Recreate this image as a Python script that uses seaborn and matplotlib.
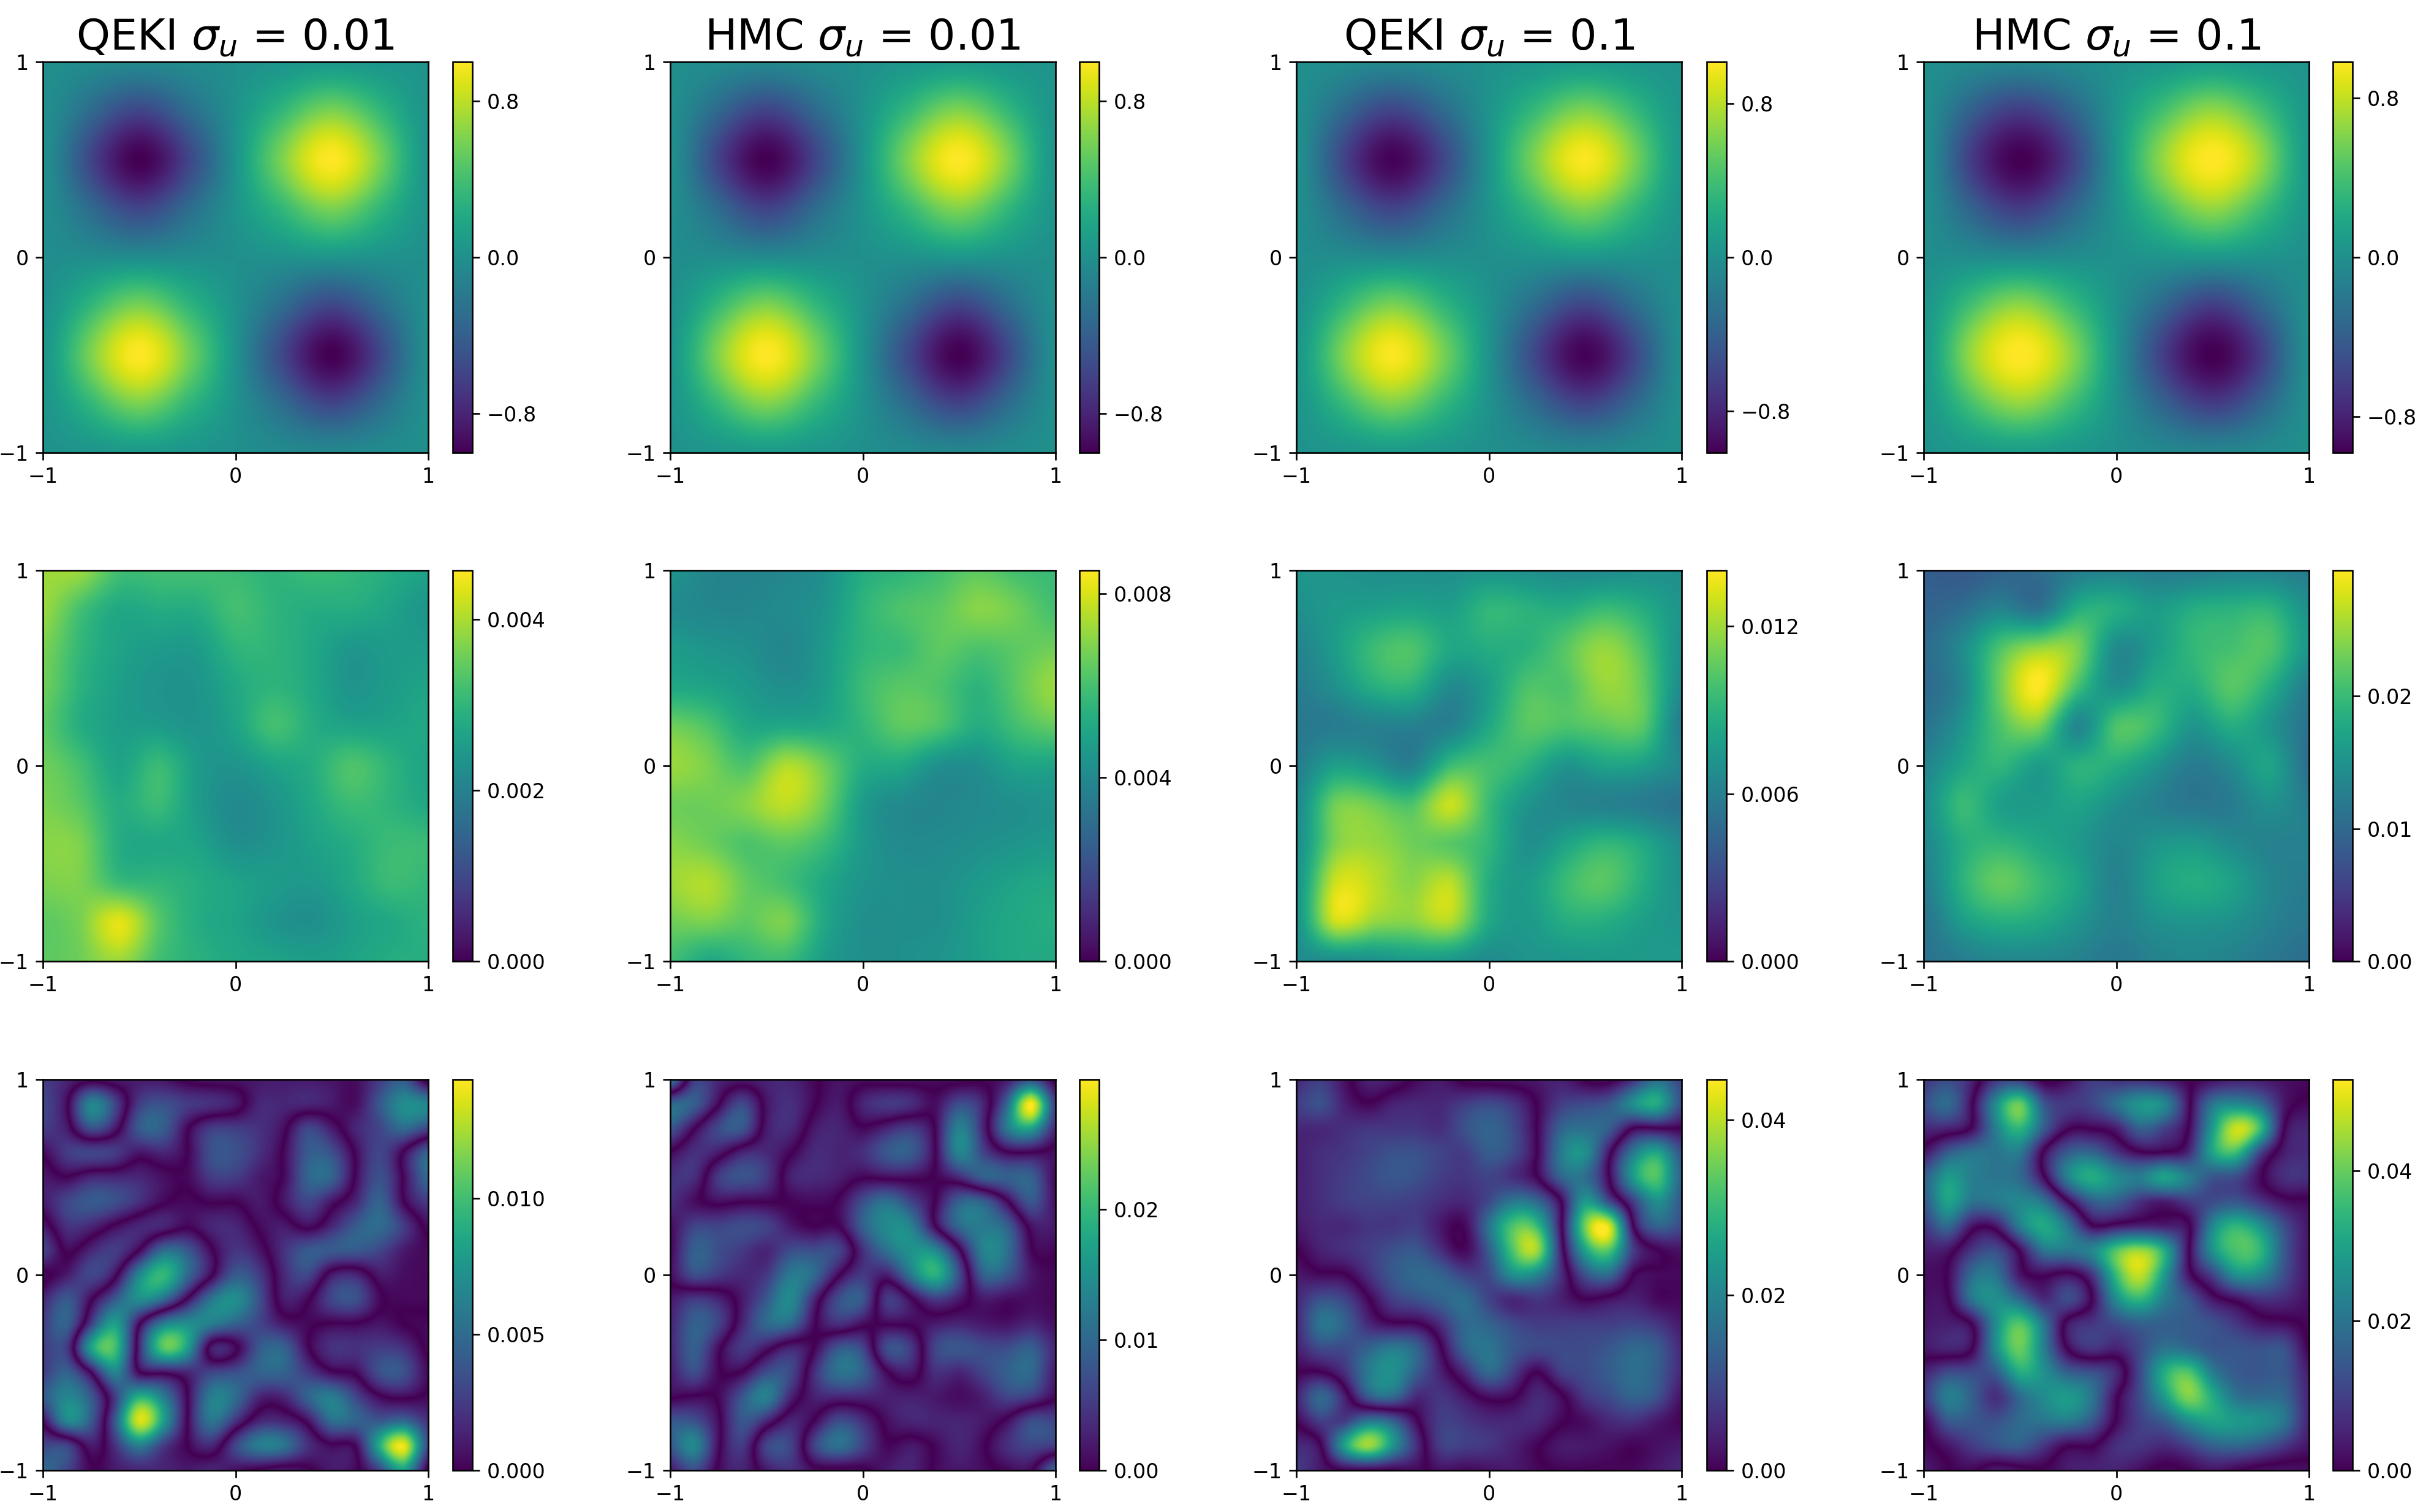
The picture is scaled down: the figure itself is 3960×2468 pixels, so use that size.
import numpy as np
import seaborn as sns
import matplotlib
matplotlib.use("Agg")
import matplotlib.pyplot as plt
from matplotlib.colors import ListedColormap, Normalize

titles = [r"QEKI $\sigma_u$ = 0.01", r"HMC $\sigma_u$ = 0.01", r"QEKI $\sigma_u$ = 0.1", r"HMC $\sigma_u$ = 0.1"]
axis_labels = ["\u22121", "0", "1"]

# ---- top row: posterior mean, 9 x 9 nodes, y = 1 ... -1, x = -1 ... 1
mean_qeki_001 = [
 [0.00,-0.04,-0.06,-0.04,0.00,0.04,0.07,0.05,0.03],
 [0.00,-0.30,-0.58,-0.30,0.02,0.33,0.60,0.33,0.03],
 [0.02,-0.58,-1.00,-0.60,0.02,0.62,1.00,0.60,0.03],
 [0.00,-0.30,-0.58,-0.30,0.03,0.33,0.60,0.32,0.03],
 [-0.02,-0.02,-0.03,-0.02,0.00,0.02,0.04,0.02,0.00],
 [0.00,0.32,0.60,0.32,0.02,-0.30,-0.58,-0.30,0.00],
 [0.03,0.60,1.00,0.60,0.02,-0.58,-1.00,-0.58,0.00],
 [0.03,0.32,0.60,0.32,0.02,-0.30,-0.58,-0.30,0.00],
 [0.02,0.04,0.07,0.04,0.00,-0.05,-0.06,-0.04,0.00]]
mean_hmc_001 = [
 [0.00,-0.04,-0.07,-0.04,0.00,0.05,0.08,0.05,0.03],
 [0.00,-0.32,-0.60,-0.32,0.02,0.35,0.62,0.34,0.03],
 [0.02,-0.60,-1.00,-0.60,0.02,0.64,1.00,0.62,0.03],
 [0.00,-0.30,-0.60,-0.30,0.03,0.35,0.62,0.33,0.03],
 [-0.02,-0.02,-0.04,-0.02,0.00,0.02,0.05,0.02,0.00],
 [0.00,0.34,0.62,0.34,0.02,-0.30,-0.60,-0.30,0.00],
 [0.03,0.62,1.00,0.62,0.02,-0.58,-1.00,-0.58,0.00],
 [0.03,0.34,0.62,0.34,0.02,-0.32,-0.60,-0.30,0.00],
 [0.02,0.05,0.08,0.05,0.00,-0.05,-0.07,-0.04,0.00]]
mean_qeki_01 = [
 [0.00,-0.04,-0.07,-0.04,0.01,0.05,0.08,0.05,0.03],
 [0.00,-0.33,-0.60,-0.33,0.03,0.36,0.62,0.36,0.05],
 [0.02,-0.60,-1.00,-0.62,0.03,0.64,1.00,0.62,0.06],
 [0.00,-0.33,-0.60,-0.33,0.03,0.36,0.62,0.34,0.04],
 [-0.02,-0.02,-0.04,-0.02,0.00,0.03,0.05,0.03,0.00],
 [0.00,0.34,0.62,0.34,0.02,-0.32,-0.60,-0.30,0.00],
 [0.04,0.63,1.00,0.63,0.03,-0.60,-1.00,-0.60,0.00],
 [0.03,0.35,0.62,0.35,0.02,-0.33,-0.60,-0.33,0.00],
 [0.02,0.05,0.08,0.05,0.00,-0.05,-0.07,-0.04,0.00]]
mean_hmc_01 = [
 [0.00,-0.05,-0.08,-0.05,0.01,0.06,0.10,0.06,0.03],
 [0.00,-0.38,-0.63,-0.38,0.04,0.40,0.66,0.40,0.05],
 [0.02,-0.63,-0.98,-0.65,0.04,0.68,0.98,0.68,0.06],
 [0.00,-0.36,-0.63,-0.36,0.03,0.40,0.66,0.38,0.05],
 [-0.01,-0.02,-0.04,-0.02,0.01,0.04,0.06,0.03,0.00],
 [0.03,0.40,0.66,0.38,0.02,-0.34,-0.63,-0.34,0.00],
 [0.05,0.68,0.98,0.68,0.03,-0.63,-0.98,-0.63,0.00],
 [0.04,0.40,0.66,0.40,0.02,-0.36,-0.63,-0.36,0.00],
 [0.02,0.07,0.10,0.06,0.00,-0.06,-0.08,-0.05,0.00]]

# ---- middle row: posterior std, 11 x 11 nodes, percent of the colourbar top
std_qeki_001 = [
 [85,85,70,70,70,68,65,68,66,62,58],
 [85,70,60,62,62,70,65,62,62,58,52],
 [80,66,58,55,55,65,65,60,53,55,55],
 [78,64,56,52,52,60,65,60,52,55,58],
 [75,62,56,55,52,58,70,62,58,58,60],
 [78,70,58,68,55,52,58,62,72,65,58],
 [80,74,62,68,55,48,52,60,68,65,60],
 [82,80,62,60,58,50,52,57,62,68,68],
 [80,80,68,66,62,58,55,54,60,68,66],
 [75,80,96,74,62,58,52,50,56,60,64],
 [75,78,85,70,64,60,58,56,58,62,62]]
std_hmc_001 = [
 [52,46,45,46,50,62,65,70,75,70,68],
 [48,46,46,48,52,65,72,75,82,78,70],
 [55,52,50,46,54,65,68,75,72,75,78],
 [60,58,54,50,55,68,74,72,65,75,85],
 [78,72,60,60,60,66,75,72,62,70,76],
 [85,80,72,88,78,62,60,50,50,58,58],
 [78,78,82,90,78,55,48,46,48,50,52],
 [82,78,72,75,68,54,48,48,50,52,54],
 [85,88,76,70,60,52,50,50,54,58,60],
 [78,80,75,80,60,50,50,50,56,60,62],
 [70,60,66,68,55,50,50,52,56,60,60]]
std_qeki_01 = [
 [52,52,50,50,50,52,50,48,48,50,50],
 [50,54,56,58,56,66,64,62,68,62,52],
 [45,55,68,72,60,62,64,74,84,72,50],
 [42,50,62,64,48,56,72,72,84,76,48],
 [40,42,44,44,44,60,74,72,75,74,42],
 [42,56,52,44,68,70,64,52,58,56,46],
 [46,78,78,72,92,68,52,46,44,42,38],
 [48,80,84,78,74,66,50,58,66,60,48],
 [50,92,90,82,90,62,55,68,74,62,50],
 [50,92,84,82,88,60,54,62,62,56,52],
 [48,48,50,54,52,48,52,52,54,54,54]]
std_hmc_01 = [
 [30,28,32,36,42,44,42,42,45,44,42],
 [32,36,45,38,62,62,55,62,64,65,50],
 [35,48,72,84,80,48,55,66,70,72,52],
 [35,46,78,100,70,50,62,62,74,62,42],
 [38,52,72,80,46,72,68,52,62,52,38],
 [45,58,66,55,64,62,52,42,48,58,36],
 [48,68,56,55,58,50,44,40,42,50,42],
 [46,62,66,60,54,46,52,54,48,44,44],
 [42,64,76,68,58,44,56,62,57,46,42],
 [38,55,62,60,52,44,50,52,50,44,40],
 [38,42,46,46,44,40,44,46,44,40,36]]

# ---- bottom row: error in units of 1e-3, 17 x 17 nodes. The sign only tells
# neighbouring lobes apart, so the plotted magnitude falls to 0 between them.
err_qeki_001 = [
 [-2.5,-1.5,-0.5,-1,-1,-0.8,0.3,0.8,0.8,1,1,1,0.8,0.5,2.5,4,-1],
 [-3,-0.3,6.5,3,-2.5,-3.5,-2.5,-2,-1,1.5,1.5,1.5,1,0.5,4,7,6.5],
 [-2.5,-1,3.5,1,-4,-4.2,-0.2,2.5,2.5,2,0.5,-3,-1,1.5,3,5,3],
 [-0.3,-2.5,-3,-2.5,-0.8,-1.5,0,3.5,3.5,2,-0.2,-4,-3.5,0.3,3,-0.3,-4.5],
 [1,0.1,1.5,1.5,1.5,0.6,0.3,2.5,2.5,1,-0.2,-4.5,-4.5,0.3,3.5,-0.3,-5],
 [1,3,4,3.5,2,0.3,-0.3,0.2,0.1,1,-0.8,-3,-0.8,1.5,4.5,0,-2.5],
 [-1,2,1.5,-0.3,-1.5,-1.5,-0.2,-1.5,-1.5,0.3,1,-0.5,1.5,4,5,2.5,-0.5],
 [-3,0.3,-1.5,-2.5,0.1,5,4,0.3,-2.2,-0.8,2,4,4,4,3,1,0.3],
 [0.3,-1,-3,-0.5,6.5,9.5,5,0.3,-4,-2.5,1.5,3,-1,-1.5,1,0.5,0.3],
 [-1.5,-4,-0.2,4,7,5,-0.3,-5.5,-7,-3.5,1,0.2,-3,-3.5,-0.3,0.3,0.3],
 [-2.5,-4.5,2.5,8,0.3,-6,-7,-6,-4.5,-3,-1,-0.3,0.1,0.1,0.8,0,-0.3],
 [-2.5,-2.5,8,10,-1.5,-10.5,-8,1,0.3,-4,-4.5,-0.3,2,2,2.5,2,-0.3],
 [-2.5,-4.5,0,6.5,0.2,-0.4,-1.5,-3,-3.5,-4.5,-4.5,-2.5,-0.4,0.3,3.5,3.5,0.3],
 [-4,-6.5,-4,2.5,9,6,0,-6,-5,-1.5,-1.5,-4.5,-6,-3,-0.3,0.3,-0.3],
 [-0.3,-6.5,-4,4,13.5,8,0,-5.5,-2,1.5,1.5,-0.5,-5,-4.5,-4,-5,-2],
 [3,3,-1,2,6,2.5,0,-1.5,3,6,5.5,2,0.3,-0.3,-9,-14,-3],
 [5,3,0.2,1,1.5,1.5,1,1.5,0.5,-0.3,-1,-0.3,1,0.3,-3,-8,0.5]]
err_hmc_001 = [
 [-13,5,3,2,3,3,0.5,-1.5,-1,-1.5,-1.5,-1,-1,-0.5,-2,-7,1],
 [10,9,0.5,-6.5,1.5,4,0.3,-2,3,5,4,1,7,3,-10,-30,-5],
 [8,0.3,-6.5,-8,2,3.5,-2,-3,-0.5,-3,-5,0.2,13,3,-12,-17,-3],
 [-0.5,-4,-2,3,3.5,0.3,-3.5,-3,-4,-8,-8.5,-0.2,13.5,6,0.5,0.3,1],
 [-4,-4,5,7.5,5,-2.5,-3.5,-2.5,-0.3,-1,-1,0.3,3.5,9,9,9,0.5],
 [-4,-1,1,0.2,0.2,-0.3,-0.8,0.5,7,11,6,0,-9,-9,-0.5,8,1],
 [-1,-6,-6,-7,-6,-2,0,0,9,14,13,0.3,-10,-12,-9,1.5,2],
 [-0.5,-9,-7,-5,-3,-7,-7,-6,4,11,15,14,1,-13,-11,-0.3,0.3],
 [-1,-7,-5,-3.5,-5,-12,-10,-0.5,5,2.5,12,19,7,-9,-8,-2,-0.5],
 [2,5,3,-2,-8,-14,-3,7,8,-5,-0.5,5,2,-2,-1,-1,-0.5],
 [3,9,6,-3,-10,-10,-0.5,4,1,-0.3,-0.5,-2,-3,-2,-1.5,-3,-1],
 [3,9,1,-5,-1.5,3,-0.3,-8,-6,7,5,-6,-8,-7,-7,-9,-3],
 [2,7,0.5,0.5,7,6.5,-4,-11,-9,-0.5,2,-4,-3,-6,-9,-10,-2],
 [0.5,-0.5,0.5,8,13,3,-2.5,-3,-3,-2.5,-2.5,-2,-1,-2.5,-6,-5,-0.5],
 [-8,-7.5,-1,8,3,-3,0.5,7,4,-1,-3,-3,-3,-2,1,7,6],
 [-8,-14,-1,5,-6,-6,6,11,6,0.5,2,-0.5,-3,-0.5,4,6,5],
 [-2,-7,0.5,3,-2,-4,-1,-1,-0.5,2,3,-0.5,-2,-1,0.5,0.5,-10]]
err_qeki_01 = [
 [5,8,2,-4,-3,1,3,-1,-2,-2.5,-3,-4,0.5,1,-6,-16,-9],
 [8,11,4,0.5,4,5,5,8,10,7,-0.3,-8,-10,-12,-22,-27,-10],
 [5,5,6,7,7,7,6,11,14,10,-0.3,-14,-16,-13,0,0,0],
 [4,6,7,9,11,11,9,8,13,10,0,-18,-22,-2,18,26,11],
 [4,6,8,10,12,11,8,7,9,6,0.3,-14,-16,0,24,32,14],
 [4,6,8,9,9,8,6,5,10,18,15,0,-24,-10,8,22,12],
 [3,5,5,7,7,8,3,1,17,32,30,1,-35,-42,0,14,10],
 [0,4,6,8,11,12,6,1,13,32,38,4,-25,-32,-8,-0.3,2],
 [-3,-1,-0.5,6,12,15,14,9,10,22,20,6,-11,-15,0,1,1],
 [-5,-11,-9,-0.5,8,11,14,16,9,5,7,4,0,2,4,1,1],
 [-5,-17,-14,-5,-1,-0.5,6,15,14,10,8,8,8,8,9,7,3],
 [-4,-10,-10,-14,-18,-14,-0.5,14,17,12,10,10,10,12,15,13,5],
 [0,0.5,-6,-18,-22,-13,-4,5,15,8,0,8,10,13,16,13,5],
 [4,15,4,-12,-15,-5,-7,-3,1.5,0.5,-5,-1,7,10,14,11,2],
 [0.5,8,8,18,14,1,-8,-7,-5,-5,-5,-0.5,1.5,5,6,3,0.5],
 [-5,-0.5,25,38,23,6,-8,-8,-7,-4,-0.5,3,3,2,0.5,2,3],
 [-8,-3,0,0,0,1,-2,-1,-2,-3,-1,0.5,0.5,0.5,1,3,5]]
err_hmc_01 = [
 [-8,-12,-5,8,9,-1,2,9,7,7,4,0.5,-2,-5,-4,-2,-1],
 [-12,-18,-1,25,40,14,9,11,19,27,24,2,-20,-24,-18,-3,1],
 [-6,-5,1,22,34,15,1,0.5,4,16,10,-0.5,-28,-48,-35,0.3,5],
 [3,15,20,20,21,-1,-15,-17,-8,-1,-1,-6,-30,-35,-10,4,6],
 [15,28,22,20,18,1,-23,-32,-25,-22,-30,-22,-14,-12,-1,7,7],
 [14,30,20,21,24,20,0.5,-15,-15,-7,-4,-9,-12,-14,-8,-2,-1],
 [8,18,3,3,22,31,20,1,3,5,4,1,-24,-34,-26,-12,-3],
 [4,3,-8,-12,1,20,21,24,38,44,32,1,-26,-37,-34,-14,-3],
 [1.5,-0.5,-18,-20,-3,1,-2,8,35,47,28,3,-10,-26,-24,-12,-3],
 [2,0.5,-20,-26,-18,-6,-12,0.5,25,34,22,14,3,-2,-7,-6,-2],
 [3,4,-0.5,-25,-38,-20,3,8,12,16,16,15,13,8,3,2,-1],
 [3,5,0.5,-25,-40,-22,0.5,8,5,12,20,18,14,14,13,13,0],
 [-5,-12,-12,-15,-32,-26,-16,-13,-6,12,32,38,22,15,14,14,4],
 [-8,-22,-16,-7,-18,-25,-28,-20,-1,12,28,42,32,20,18,17,5],
 [0,-14,-14,-13,-18,-20,-21,-14,0.5,10,15,25,30,28,26,20,5],
 [1,-3,-9,-13,-15,-8,-0.5,-0.5,7,8,6,10,16,17,14,8,3],
 [4,0.3,-1,4,2,0.5,4,5,5,2,-1,0.5,3,0.5,-2,-2.5,-2]]

# ---- colourbars
mean_limits = [1.00, 1.00, 1.015, 0.98]
std_tops = [0.00457, 0.0085, 0.0140, 0.02947]
err_tops = [0.01438, 0.02994, 0.0446, 0.0522]
mean_ticks = [[-0.8, 0.0, 0.8]] * 4
mean_tick_text = [["\u22120.8", "0.0", "0.8"]] * 4
std_ticks = [[0, 0.002, 0.004], [0, 0.004, 0.008], [0, 0.006, 0.012], [0, 0.01, 0.02]]
std_tick_text = [["0.000", "0.002", "0.004"], ["0.000", "0.004", "0.008"], ["0.000", "0.006", "0.012"], ["0.00", "0.01", "0.02"]]
err_ticks = [[0, 0.005, 0.010], [0, 0.01, 0.02], [0, 0.02, 0.04], [0, 0.02, 0.04]]
err_tick_text = [["0.000", "0.005", "0.010"], ["0.00", "0.01", "0.02"], ["0.00", "0.02", "0.04"], ["0.00", "0.02", "0.04"]]

W, H, DPI = 3960, 2468, 240
col_left = [70, 1094, 2116, 3140]
cbar_left = [739, 1762, 2786, 3808]
row_top = [101, 931, 1762]
AX_W, AX_H, CB_W = 629, 638, 32

plt.rcParams.update({"font.family": "DejaVu Sans", "axes.linewidth": 0.8})
fig = plt.figure(figsize=(W / DPI, H / DPI), dpi=DPI)

viridis = plt.get_cmap("viridis")(np.linspace(0, 1, 256))
two_sided = ListedColormap(np.vstack([viridis[::-1], viridis]))


def panel(r, c, grid, vmin, vmax, ticks, tick_text, signed=False):
    ax = fig.add_axes([col_left[c] / W, 1 - (row_top[r] + AX_H) / H, AX_W / W, AX_H / H])
    cax = fig.add_axes([cbar_left[c] / W, 1 - (row_top[r] + AX_H) / H, CB_W / W, AX_H / H])
    shown = np.abs(grid) if signed else grid
    sns.heatmap(shown, ax=ax, cbar_ax=cax, cmap="viridis", vmin=vmin, vmax=vmax,
                xticklabels=False, yticklabels=False)
    n = grid.shape[0]
    # smooth the same node values; a two-sided map keeps the dark seams of |error|
    if signed:
        ax.imshow(grid, extent=(0, n, n, 0), cmap=two_sided, norm=Normalize(-vmax, vmax),
                  interpolation="spline16", interpolation_stage="data", aspect="auto", zorder=2)
    else:
        ax.imshow(grid, extent=(0, n, n, 0), cmap="viridis", norm=Normalize(vmin, vmax),
                  interpolation="spline16", interpolation_stage="data", aspect="auto", zorder=2)
    ax.set_xlim(0.5, n - 0.5)
    ax.set_ylim(n - 0.5, 0.5)
    pos = [0.5, n / 2, n - 0.5]
    ax.set_xticks(pos, axis_labels, rotation=0)
    ax.set_yticks(pos, axis_labels[::-1], rotation=0)
    ax.tick_params(length=3.5, width=0.8, labelsize=10, left=True, bottom=True, zorder=5)
    for s in ax.spines.values():
        s.set_visible(True)
        s.set_linewidth(0.8)
        s.set_color("black")
        s.set_zorder(6)
    cb = ax.collections[0].colorbar
    cb.set_ticks(ticks, labels=tick_text)
    cb.ax.tick_params(length=3.5, width=0.8, labelsize=10, right=True)
    cb.outline.set_visible(True)
    cb.outline.set_linewidth(0.8)
    cb.outline.set_edgecolor("black")
    return ax


mean_grids = [mean_qeki_001, mean_hmc_001, mean_qeki_01, mean_hmc_01]
std_grids = [std_qeki_001, std_hmc_001, std_qeki_01, std_hmc_01]
err_grids = [err_qeki_001, err_hmc_001, err_qeki_01, err_hmc_01]

for c in range(4):
    lim = mean_limits[c]
    ax = panel(0, c, np.array(mean_grids[c], float), -lim, lim, mean_ticks[c], mean_tick_text[c])
    ax.set_title(titles[c], fontsize=21)
    panel(1, c, np.array(std_grids[c], float) / 100 * std_tops[c], 0, std_tops[c],
          std_ticks[c], std_tick_text[c])
    panel(2, c, np.array(err_grids[c], float) * 1e-3, 0, err_tops[c],
          err_ticks[c], err_tick_text[c], signed=True)

fig.savefig("out.png", dpi=DPI, facecolor="white")
